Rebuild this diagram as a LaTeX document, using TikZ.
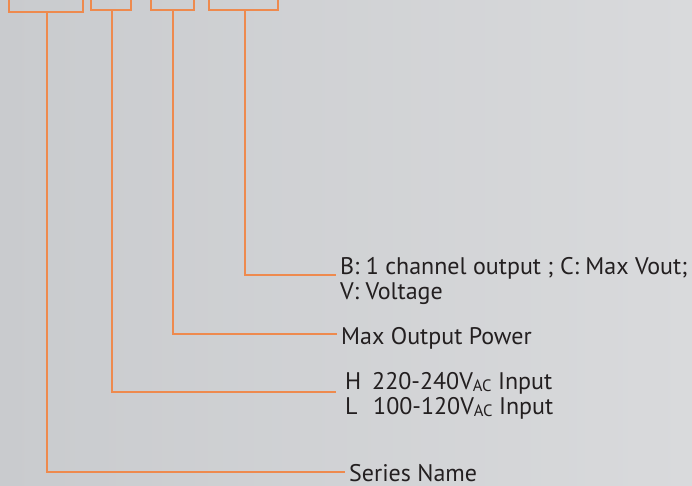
\documentclass[tikz,border=0pt]{standalone}
\usepackage{fontspec}
\setmainfont{PT Sans}
\definecolor{lineorange}{HTML}{EE8A4E}
\definecolor{txt}{HTML}{231F20}
\definecolor{bgA}{HTML}{C9CBCE}
\definecolor{bgB}{HTML}{D9DADC}
\newcommand{\subAC}{\raisebox{-2.5pt}{\fontsize{16.5}{16.5}\selectfont AC}}
\begin{document}
\begin{tikzpicture}[x=1pt,y=-1pt,
  lead/.style={draw=lineorange,line width=2pt},
  lbl/.style={anchor=base west,inner sep=0pt,text=txt,font=\fontsize{24}{26}\selectfont}]
\useasboundingbox (0,0) rectangle (692,486);
\clip (0,0) rectangle (692,486);
\shade[shading angle=135,left color=bgA,right color=bgB] (0,0) rectangle (692,486);
% code boxes (cut at the top edge)
\draw[lead] (9,-10) rectangle (83,12);
\draw[lead] (91,-10) rectangle (131,10);
\draw[lead] (151,-10) rectangle (194,10);
\draw[lead] (209,-10) rectangle (278,10);
\coordinate (b1) at (47,12);
\coordinate (b2) at (112,10);
\coordinate (b3) at (173,10);
\coordinate (b4) at (245,10);
% labels
\node[lbl] (tB) at (340,274) {B: 1 channel output ; C: Max Vout;};
\node[lbl] (tV) at (340,299) {V: Voltage};
\node[lbl] (tP) at (341,344) {Max Output Power};
\node[lbl] (tH) at (345,389) {\makebox[27pt][l]{H}220-240V\subAC\ Input};
\node[lbl] (tL) at (345,414) {\makebox[28pt][l]{L}100-120V\subAC\ Input};
\node[lbl] (tS) at (349,481) {Series Name};
% leader lines
\coordinate (e4) at (336,275);
\coordinate (e3) at (337,334);
\coordinate (e2) at (336,392);
\coordinate (e1) at (345,472);
\draw[lead] (b4) |- (e4);
\draw[lead] (b3) |- (e3);
\draw[lead] (b2) |- (e2);
\draw[lead] (b1) |- (e1);
\end{tikzpicture}
\end{document}
